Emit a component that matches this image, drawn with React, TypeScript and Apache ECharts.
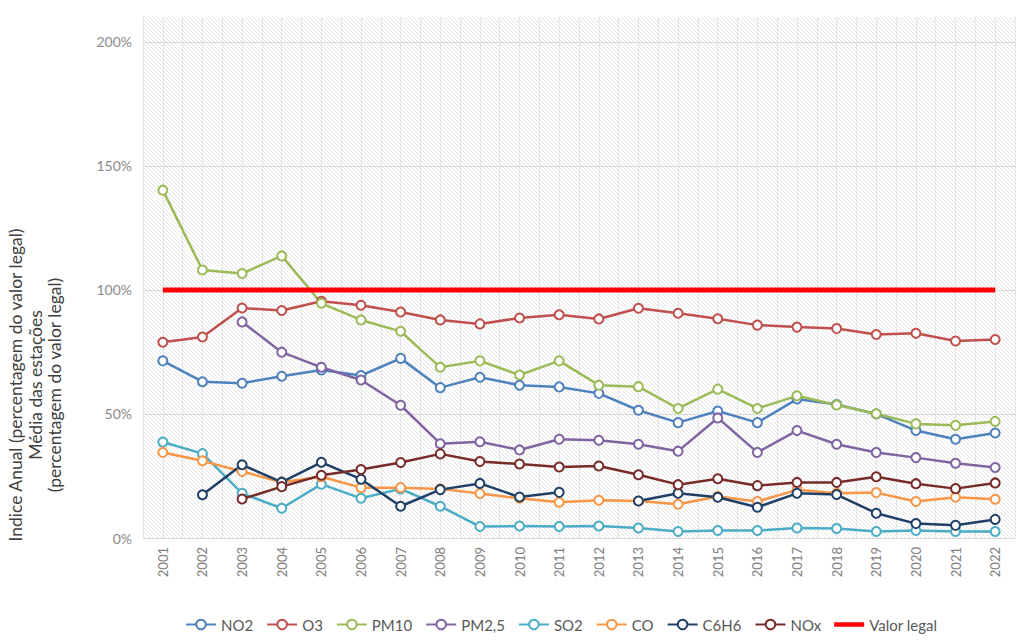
import React, { useEffect, useRef } from "react";
import * as echarts from "echarts";

const years = ["2001","2002","2003","2004","2005","2006","2007","2008","2009","2010","2011","2012","2013","2014","2015","2016","2017","2018","2019","2020","2021","2022"];
const no2 = [71.4, 63, 62.4, 65.2, 67.7, 65.5, 72.4, 60.6, 64.8, 61.6, 60.9, 58.3, 51.5, 46.5, 51.2, 46.5, 56, 53.8, 50, 43.3, 39.8, 42.3];
const o3 = [78.9, 81, 92.7, 91.7, 95.4, 93.8, 91.1, 87.9, 86.3, 88.7, 90, 88.3, 92.6, 90.6, 88.4, 85.8, 85, 84.4, 82, 82.5, 79.4, 80];
const pm10 = [140.2, 108, 106.6, 113.7, 94.6, 87.9, 83.3, 68.8, 71.4, 65.7, 71.4, 61.6, 61, 52.2, 60, 52.2, 57.3, 53.6, 50.1, 46, 45.4, 47];
const pm25 = [null, null, 87.1, 74.9, 68.8, 63.7, 53.5, 38, 38.8, 35.5, 39.8, 39.4, 37.8, 35, 48.4, 34.5, 43.3, 37.8, 34.5, 32.4, 30.1, 28.4];
const so2 = [38.7, 34, 18, 12, 21.7, 16, 19.8, 12.8, 4.6, 4.8, 4.6, 4.8, 4, 2.6, 3, 3, 4, 3.8, 2.6, 3, 2.6, 2.6];
const co = [34.5, 31.1, 26.8, 22.5, 24.7, 20.3, 20.3, 19.8, 17.9, 16, 14.4, 15.2, 14.9, 13.6, 16.7, 14.7, 19.4, 18, 18.3, 14.7, 16.4, 15.6];
const c6h6 = [null, 17.4, 29.5, 22.5, 30.5, 23.7, 12.8, 19.5, 22, 16.5, 18.4, null, 14.9, 18, 16.4, 12.4, 18, 17.5, 10, 5.8, 5.1, 7.5];
const nox = [null, null, 15.7, 20.7, 25.3, 27.6, 30.4, 33.9, 30.8, 29.8, 28.6, 29, 25.5, 21.5, 23.9, 21.1, 22.4, 22.4, 24.7, 21.9, 19.9, 22.2];
const valorLegal = [100, 100, 100, 100, 100, 100, 100, 100, 100, 100, 100, 100, 100, 100, 100, 100, 100, 100, 100, 100, 100, 100];

const seriesNames = ["NO2", "O3", "PM10", "PM2,5", "SO2", "CO", "C6H6", "NOx"];
const seriesData = [no2, o3, pm10, pm25, so2, co, c6h6, nox];
const seriesColors = ["#4f81bd", "#c0504d", "#9bbb59", "#8064a2", "#4bacc6", "#f79646", "#1f3f66", "#772c2a"];

const FONT = "Lato, 'Open Sans', sans-serif";

function makeHatch() {
  const c = document.createElement("canvas");
  c.width = 4;
  c.height = 4;
  const ctx = c.getContext("2d");
  if (ctx) {
    ctx.fillStyle = "#ffffff";
    ctx.fillRect(0, 0, 4, 4);
    ctx.fillStyle = "#e6e6e6";
    for (let i = 0; i < 4; i++) ctx.fillRect(i, i, 1, 1);
  }
  return c;
}

export default function App() {
  const ref = useRef<HTMLDivElement>(null);
  useEffect(() => {
    if (!ref.current) return;
    const chart = echarts.init(ref.current, undefined, { renderer: "svg" });
    const lines: any[] = seriesNames.map((name, i) => ({
      name,
      type: "line",
      data: seriesData[i],
      xAxisIndex: 0,
      yAxisIndex: 0,
      symbol: "emptyCircle",
      symbolSize: 9,
      connectNulls: false,
      lineStyle: { width: 2.5, color: seriesColors[i] },
      itemStyle: { color: seriesColors[i], borderWidth: 2, borderColor: seriesColors[i] },
      emphasis: { disabled: true },
    }));
    lines.push({
      name: "Valor legal",
      type: "line",
      data: valorLegal,
      xAxisIndex: 0,
      yAxisIndex: 0,
      symbol: "none",
      showSymbol: false,
      lineStyle: { width: 5, color: "#ff0000" },
      itemStyle: { color: "#ff0000" },
      emphasis: { disabled: true },
    });
    chart.setOption({
      animation: false,
      textStyle: { fontFamily: FONT },
      grid: {
        left: 143,
        right: 9,
        top: 17,
        bottom: 104,
        show: true,
        borderWidth: 0,
        backgroundColor: { image: makeHatch(), repeat: "repeat" },
      },
      xAxis: [
        {
          type: "category",
          data: years,
          boundaryGap: true,
          axisLine: { show: false },
          axisTick: { show: false },
          splitLine: { show: false },
          axisLabel: { rotate: 90, color: "#808080", fontSize: 13, margin: 9, fontFamily: FONT },
        },
        {
          type: "value",
          min: 0,
          max: 44,
          interval: 1,
          position: "top",
          axisLine: { show: false },
          axisTick: { show: false },
          axisLabel: { show: false },
          splitLine: { show: true, lineStyle: { color: "#e4e4e4", width: 1 } },
        },
      ],
      yAxis: {
        type: "value",
        min: 0,
        max: 210,
        interval: 50,
        axisLine: { show: false },
        axisTick: { show: false },
        axisLabel: {
          color: "#8a8a8a",
          fontSize: 14,
          margin: 11,
          fontFamily: FONT,
          formatter: (v: number) => (v % 50 === 0 ? v + "%" : ""),
        },
        splitLine: { show: true, showMaxLine: false, lineStyle: { color: "#d9d9d9", width: 1 } },
      },
      legend: {
        bottom: 5,
        left: 180,
        itemWidth: 30,
        itemHeight: 12,
        itemGap: 13,
        textStyle: { color: "#595959", fontSize: 15, fontFamily: FONT },
        data: [
          ...seriesNames,
          { name: "Valor legal", icon: "path://M0,0 L30,0 L30,4.5 L0,4.5 Z" },
        ],
      },
      graphic: [
        {
          type: "text",
          x: 35,
          y: 385,
          rotation: Math.PI / 2,
          style: {
            text: "Indice Anual (percentagem do valor legal)\nMédia das estações\n(percentagem do valor legal)",
            fill: "#404040",
            fontSize: 17.5,
            lineHeight: 19.5,
            fontFamily: FONT,
            textAlign: "center",
            textVerticalAlign: "middle",
          },
        },
      ],
      series: lines,
    });
    return () => chart.dispose();
  }, []);
  return <div ref={ref} style={{ width: 1024, height: 642, position: "absolute", left: 0, top: 0 }} />;
}
